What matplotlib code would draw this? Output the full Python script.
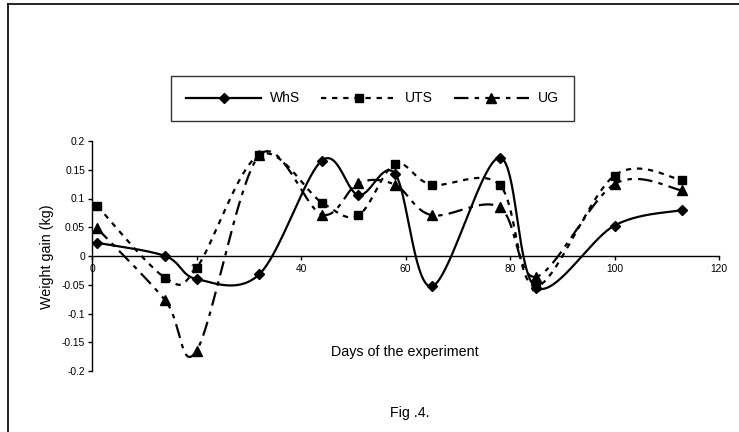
import numpy as np
import matplotlib
matplotlib.use("Agg")
import matplotlib.pyplot as plt
from matplotlib.lines import Line2D

plt.rcParams["font.family"] = ["Liberation Sans", "DejaVu Sans"]

days = [1, 14, 20, 32, 44, 51, 58, 65, 78, 85, 100, 113]
whs = [0.023, 0.0, -0.040, -0.032, 0.166, 0.106, 0.143, -0.053, 0.171, -0.055, 0.053, 0.080]
uts = [0.087, -0.038, -0.021, 0.176, 0.093, 0.071, 0.160, 0.124, 0.124, -0.053, 0.140, 0.132]
ug = [0.048, -0.077, -0.165, 0.175, 0.072, 0.127, 0.124, 0.071, 0.085, -0.036, 0.125, 0.114]

x_ticks = [0, 20, 40, 60, 80, 100, 120]
y_ticks = [-0.2, -0.15, -0.1, -0.05, 0, 0.05, 0.1, 0.15, 0.2]
y_labels = ["-0.2", "-0.15", "-0.1", "-0.05", "0", "0.05", "0.1", "0.15", "0.2"]


def smooth(x, y, n=40):
    # excel style smoothed line (bezier through the points)
    p = np.column_stack([x, y]).astype(float)
    p = np.vstack([p[0], p, p[-1]])
    t = np.linspace(0, 1, n)[:, None]
    out = []
    for i in range(1, len(p) - 2):
        p0, p3 = p[i], p[i + 1]
        c1 = p0 + (p[i + 1] - p[i - 1]) / 6
        c2 = p3 - (p[i + 2] - p[i]) / 6
        seg = ((1 - t) ** 3) * p0 + 3 * ((1 - t) ** 2) * t * c1 + 3 * (1 - t) * t ** 2 * c2 + t ** 3 * p3
        out.append(seg)
    out = np.vstack(out)
    return out[:, 0], out[:, 1]


W, H = 739, 432
fig = plt.figure(figsize=(W / 100, H / 100), dpi=100)
ax = fig.add_axes([92 / W, 1 - 371 / H, 627 / W, 230 / H])

series = [
    ("WhS", whs, "-", "D", 5.0),
    ("UTS", uts, (0, (2.4, 2.6)), "s", 6.0),
    ("UG", ug, (0, (6.5, 2.8, 2.0, 2.8)), "^", 6.5),
]

handles = []
for name, vals, ls, mk, ms in series:
    sx, sy = smooth(days, vals)
    ax.plot(sx, sy, color="black", linestyle=ls, linewidth=1.6, zorder=2)
    ax.plot(days, vals, linestyle="none", marker=mk, markersize=ms,
            color="black", zorder=3)
    handles.append(Line2D([], [], color="black", linestyle=ls, linewidth=1.6,
                          marker=mk, markersize=ms))

ax.set_xlim(0, 120)
ax.set_ylim(-0.2, 0.2)
ax.spines["top"].set_visible(False)
ax.spines["right"].set_visible(False)
ax.spines["bottom"].set_position(("data", 0))
ax.spines["left"].set_linewidth(1.0)
ax.spines["bottom"].set_linewidth(1.0)
ax.patch.set_visible(False)

ax.set_xticks(x_ticks)
ax.set_xticklabels([str(v) for v in x_ticks])
ax.set_yticks(y_ticks)
ax.set_yticklabels(y_labels)
ax.tick_params(axis="both", direction="out", length=3, width=1.0,
               labelsize=7.4, colors="black", pad=2)
ax.tick_params(axis="x", pad=3)

fig.text(47 / W, 1 - 257 / H, "Weight gain (kg)", rotation=90,
         ha="center", va="center", fontsize=10.3)
fig.text(405 / W, 1 - 352 / H, "Days of the experiment",
         ha="center", va="center", fontsize=10.3)
fig.text(410 / W, 1 - 413 / H, "Fig .4.", ha="center", va="center", fontsize=10.3)

leg = fig.legend(handles, ["WhS", "UTS", "UG"], loc="center",
                 bbox_to_anchor=(372.5 / W, 1 - 98.5 / H), ncol=3,
                 fontsize=10, frameon=True, fancybox=False, shadow=False,
                 handlelength=5.4, handletextpad=0.65, columnspacing=1.5,
                 borderpad=1.1, borderaxespad=0)
leg.get_frame().set_edgecolor("black")
leg.get_frame().set_linewidth(1.0)

# outer frame (top and left edges only are visible)
fig.add_artist(Line2D([8 / W, 1], [1 - 4 / H, 1 - 4 / H], color="black",
                      linewidth=1.2, transform=fig.transFigure))
fig.add_artist(Line2D([8 / W, 8 / W], [0, 1 - 4 / H], color="black",
                      linewidth=1.2, transform=fig.transFigure))

fig.savefig("out.png", dpi=100)
